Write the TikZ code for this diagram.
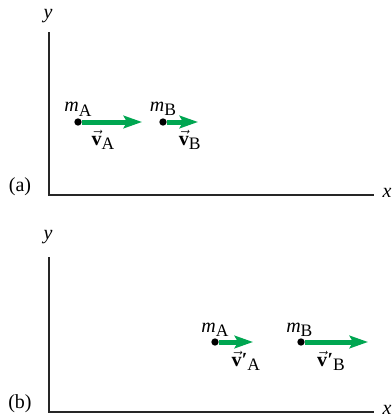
\documentclass[tikz,border=0pt]{standalone}
\usepackage{amsmath}
\usepackage{fontspec}
\setmainfont{Liberation Serif}
\usepackage{xcolor}
\usetikzlibrary{arrows.meta,positioning}
\definecolor{verdeseta}{RGB}{0,166,81}
\newcommand{\indice}[1]{\raisebox{-0.5ex}{\fontsize{10.5}{12}\selectfont #1}}
\newcommand{\massa}[1]{\textit{m}\indice{#1}}
\newcommand{\veloc}[1]{$\vec{\text{\textbf{v}}}$\indice{#1}}
\newcommand{\velocl}[1]{$\vec{\text{\textbf{v}}}$\kern0.2pt\textbf{′}\indice{#1}}
\tikzset{
    eixo/.style={draw=black!85, line width=0.8pt},
    particula/.style={
        circle,
        fill=black,
        inner sep=0pt,
        minimum size=4.4pt
    },
    velocidade/.style={-{Stealth[length=11pt,width=7.5pt,inset=2pt]}, line width=3pt, draw=verdeseta},
    rotulo/.style={inner sep=0pt, font=\fontsize{12}{14}\selectfont}
}

\begin{document}
\begin{tikzpicture}[x=0.6pt, y=0.6pt, font=\fontsize{12}{14}\selectfont]
    \useasboundingbox (0,0) rectangle (392,418);

    % (a) antes
    \coordinate (topoA) at (49,386);
    \coordinate (origemA) at (49,223);
    \coordinate (fimA) at (374,223);
    \draw[eixo] (topoA) -- (origemA) -- (fimA);
    \node[rotulo] (eixoyA) at (48,402) {\textit{y}};
    \node[rotulo] (eixoxA) at (387,225) {\textit{x}};
    \node[rotulo] (legendaA) at (20,231) {(a)};

    \node[particula] (pA) at (78,296) {};
    \node[particula] (pB) at (163,296) {};
    \coordinate (setaA) at (142,296);
    \coordinate (setaB) at (198,296);
    \draw[velocidade] (pA) -- (setaA);
    \draw[velocidade] (pB) -- (setaB);
    \node[rotulo, above=1pt of pA] (mA) {\massa{A}};
    \node[rotulo, above=1pt of pB] (mB) {\massa{B}};
    \node[rotulo, below=2.5pt of pA, xshift=15pt] (vA) {\veloc{A}};
    \node[rotulo, below=2.5pt of pB, xshift=16pt] (vB) {\veloc{B}};

    % (b) depois
    \coordinate (topoB) at (49,161);
    \coordinate (origemB) at (49,6);
    \coordinate (fimB) at (374,6);
    \draw[eixo] (topoB) -- (origemB) -- (fimB);
    \node[rotulo] (eixoyB) at (48,181) {\textit{y}};
    \node[rotulo] (eixoxB) at (387,8) {\textit{x}};
    \node[rotulo] (legendaB) at (20,14) {(b)};

    \node[particula] (qA) at (215,76) {};
    \node[particula] (qB) at (301,76) {};
    \coordinate (setaqA) at (253,76);
    \coordinate (setaqB) at (368,76);
    \draw[velocidade] (qA) -- (setaqA);
    \draw[velocidade] (qB) -- (setaqB);
    \node[rotulo, above=0.5pt of qA] (mqA) {\massa{A}};
    \node[rotulo, above=0.5pt of qB, xshift=-1pt] (mqB) {\massa{B}};
    \node[rotulo, below=3pt of qA, xshift=18.5pt] (vqA) {\velocl{A}};
    \node[rotulo, below=3pt of qB, xshift=18pt] (vqB) {\velocl{B}};
\end{tikzpicture}
\end{document}
